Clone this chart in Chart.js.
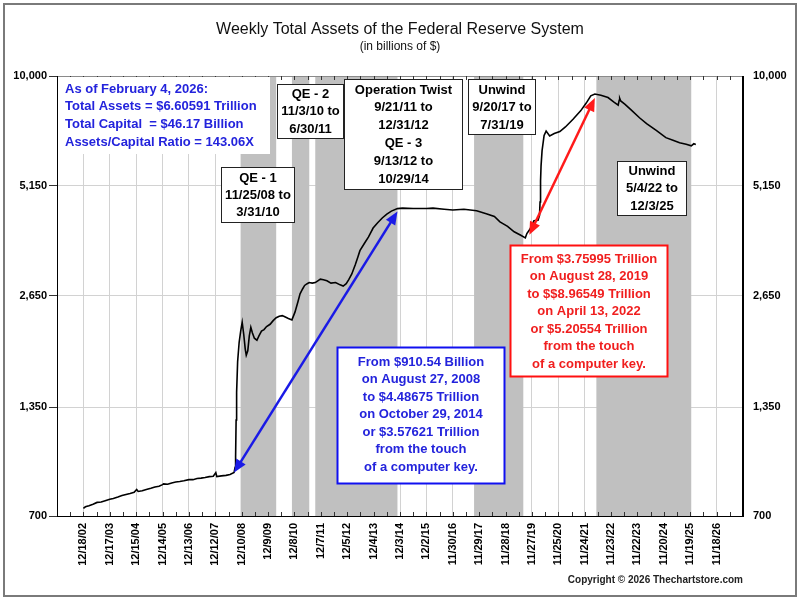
<!DOCTYPE html>
<html>
<head>
<meta charset="utf-8">
<script src="https://cdn.jsdelivr.net/npm/chart.js@4.4.1/dist/chart.umd.min.js"></script>
<style>
  html, body { margin: 0; padding: 0; background: #fff; }
  canvas { display: block; }
</style>
</head>
<body>
<canvas id="myChart" width="800" height="600"></canvas>
<script>
// weekly readings (billions of $)
const weekDates = [
  '12/18/02','1/15/03','3/5/03','4/30/03','6/25/03','8/20/03','10/15/03','12/17/03',
  '2/4/04','4/7/04','6/2/04','7/28/04','9/22/04','11/17/04','12/22/04',
  '1/12/05','3/9/05','5/4/05','7/6/05','8/31/05','10/26/05','12/14/05','12/28/05',
  '2/22/06','4/19/06','6/14/06','8/9/06','10/4/06','12/13/06',
  '2/7/07','4/4/07','5/30/07','7/25/07','9/19/07','11/14/07','12/19/07',
  '1/2/08','3/5/08','5/7/08','7/2/08','8/27/08','9/10/08','9/17/08','9/24/08','10/1/08','10/15/08','11/5/08','11/26/08','12/17/08',
  '1/7/09','1/28/09','2/11/09','3/4/09','3/25/09','4/15/09','5/6/09','6/3/09','7/8/09','8/5/09','9/9/09','10/14/09','11/18/09',
  '1/6/10','2/17/10','3/31/10','5/12/10','6/23/10','8/4/10','9/15/10','11/3/10','12/15/10',
  '1/26/11','2/23/11','3/30/11','4/27/11','6/1/11','6/29/11','8/10/11','9/21/11','10/26/11','11/30/11',
  '1/11/12','2/29/12','4/25/12','6/27/12','8/29/12','10/10/12','11/21/12','12/26/12',
  '2/6/13','3/27/13','5/1/13','5/29/13','7/31/13','9/25/13','11/27/13',
  '1/29/14','4/2/14','6/4/14','8/6/14','10/29/14',
  '1/7/15','6/3/15','12/2/15','3/2/16','8/3/16','11/30/16','5/3/17','10/25/17',
  '3/7/18','6/27/18','9/12/18','12/26/18','3/27/19','6/26/19','8/28/19','9/18/19','10/30/19','12/25/19',
  '2/19/20','3/11/20','3/18/20','3/25/20','4/1/20','4/15/20','5/13/20','6/10/20','7/29/20','9/30/20','12/16/20',
  '3/3/21','6/16/21','9/29/21','12/15/21','2/16/22','4/13/22','7/6/22','10/12/22','12/28/22',
  '3/1/23','3/15/23','3/22/23','4/5/23','5/31/23','8/30/23','12/20/23',
  '3/27/24','8/7/24','12/18/24','3/26/25','6/25/25','9/24/25','12/3/25','1/7/26','2/4/26'
];
const totalAssets = [
  733,740,745,752,760,762,768,775,
  778,785,792,797,802,808,822,
  812,815,822,828,834,838,846,850,
  848,855,860,862,866,872,
  872,878,880,883,888,890,910,
  888,892,895,900,910.54,940,1000,1250,1480,1780,2000,2140,2256,
  2100,1920,1850,1900,2080,2190,2120,2050,2025,2080,2140,2160,2200,
  2230,2280,2320,2340,2350,2330,2310,2290,2400,
  2560,2680,2760,2820,2850,2870,2860,2870,2900,2930,
  2920,2900,2860,2870,2830,2810,2850,2920,
  3023,3200,3350,3479,3640,3780,3990,
  4120,4240,4340,4420,4486.75,
  4500,4490,4490,4500,4470,4450,4470,4430,
  4350,4280,4140,4030,3900,3820,3759.95,3860,3960,4170,
  4180,4310,4670,5300,5810,6370,6980,7170,6960,7060,7150,
  7350,7700,8100,8490,8870,8965.49,8900,8780,8550,
  8390,8640,8740,8600,8440,8140,7770,
  7500,7200,6890,6780,6680,6620,6560,6640,6605.91
];
const xTickLabels = [
  '12/18/02','12/17/03','12/15/04','12/14/05','12/13/06','12/12/07','12/10/08','12/9/09',
  '12/8/10','12/7/11','12/5/12','12/4/13','12/3/14','12/2/15','11/30/16','11/29/17',
  '11/28/18','11/27/19','11/25/20','11/24/21','11/23/22','11/22/23','11/20/24','11/19/25','11/18/26'
];
const yTickValues = [700, 1350, 2650, 5150, 10000];
const bandStarts = ['11/25/08', '11/3/10', '9/21/11', '9/20/17', '5/4/22'];
const bandEnds   = ['3/31/10', '6/30/11', '10/29/14', '7/31/19', '12/3/25'];

const FONT = "'Liberation Sans', Arial, sans-serif";
const BLUE = '#2323dc';
const RED = '#f01e1e';

// day offset from the first weekly reading
const toDays = s => {
  const [m, d, y] = s.split('/').map(Number);
  return (Date.UTC(2000 + y, m - 1, d) - Date.UTC(2002, 11, 18)) / 86400000;
};
const tickDays = xTickLabels.map(toDays);
const yearStep = tickDays[1] - tickDays[0];

const textBoxes = [
  { x1: 221, y1: 167, x2: 295, y2: 223, first: 11, lh: 17, lines: ['QE - 1', '11/25/08 to', '3/31/10'] },
  { x1: 277, y1: 84, x2: 344, y2: 139, first: 10, lh: 17.5, lines: ['QE - 2', '11/3/10 to', '6/30/11'] },
  { x1: 344, y1: 79, x2: 463, y2: 190, first: 11, lh: 17.8, lines: ['Operation Twist', '9/21/11 to', '12/31/12', 'QE - 3', '9/13/12 to', '10/29/14'] },
  { x1: 468, y1: 79, x2: 536, y2: 135, first: 11, lh: 17.5, lines: ['Unwind', '9/20/17 to', '7/31/19'] },
  { x1: 617, y1: 161, x2: 687, y2: 216, first: 10, lh: 17.8, lines: ['Unwind', '5/4/22 to', '12/3/25'] },
  { x1: 337, y1: 347, x2: 505, y2: 484, first: 15, lh: 17.5, color: BLUE, border: '#1010f0', bw: 2,
    lines: ['From $910.54 Billion', 'on August 27, 2008', 'to $4.48675 Trillion', 'on October 29, 2014', 'or $3.57621 Trillion', 'from the touch', 'of a computer key.'] },
  { x1: 510, y1: 245, x2: 668, y2: 377, first: 14, lh: 17.5, color: RED, border: '#ff1010', bw: 2,
    lines: ['From $3.75995 Trillion', 'on August 28, 2019', 'to $$8.96549 Trillion', 'on April 13, 2022', 'or $5.20554 Trillion', 'from the touch', 'of a computer key.'] }
];
const asOfLines = ['As of February 4, 2026:', 'Total Assets = $6.60591 Trillion', 'Total Capital  = $46.17 Billion', 'Assets/Capital Ratio = 143.06X'];

function arrow(ctx, x1, y1, x2, y2, color) {
  const a = Math.atan2(y2 - y1, x2 - x1);
  const hl = 13, hw = 5.5;
  ctx.save();
  ctx.strokeStyle = color;
  ctx.fillStyle = color;
  ctx.lineWidth = 2.5;
  ctx.beginPath();
  ctx.moveTo(x1 + Math.cos(a) * hl * 0.8, y1 + Math.sin(a) * hl * 0.8);
  ctx.lineTo(x2 - Math.cos(a) * hl * 0.8, y2 - Math.sin(a) * hl * 0.8);
  ctx.stroke();
  [[x2, y2, a], [x1, y1, a + Math.PI]].forEach(([x, y, ang]) => {
    ctx.beginPath();
    ctx.moveTo(x, y);
    ctx.lineTo(x - Math.cos(ang) * hl - Math.sin(ang) * hw, y - Math.sin(ang) * hl + Math.cos(ang) * hw);
    ctx.lineTo(x - Math.cos(ang) * hl + Math.sin(ang) * hw, y - Math.sin(ang) * hl - Math.cos(ang) * hw);
    ctx.closePath();
    ctx.fill();
  });
  ctx.restore();
}

const decorations = {
  id: 'decorations',
  beforeDraw(chart) {
    const ctx = chart.ctx;
    ctx.save();
    ctx.fillStyle = '#fff';
    ctx.fillRect(0, 0, chart.width, chart.height);
    ctx.restore();
  },
  beforeDatasetsDraw(chart) {
    const { ctx, chartArea: ca, scales: { x } } = chart;
    ctx.save();
    ctx.fillStyle = '#c0c0c0';
    bandStarts.forEach((s, i) => {
      const a = x.getPixelForValue(toDays(s));
      const b = x.getPixelForValue(toDays(bandEnds[i]));
      ctx.fillRect(a, ca.top, b - a, ca.bottom - ca.top);
    });
    ctx.restore();
  },
  afterDraw(chart) {
    const { ctx, chartArea: ca, scales: { x, y } } = chart;
    ctx.save();

    // frame of the plot area
    ctx.lineWidth = 1;
    ctx.strokeStyle = '#8a8a8a';
    ctx.beginPath();
    ctx.moveTo(ca.left, ca.top + 0.5);
    ctx.lineTo(ca.right, ca.top + 0.5);
    ctx.stroke();
    ctx.strokeStyle = '#000';
    ctx.beginPath();
    ctx.moveTo(ca.left + 0.5, ca.top);
    ctx.lineTo(ca.left + 0.5, ca.bottom + 0.5);
    ctx.lineTo(ca.right - 0.5, ca.bottom + 0.5);
    ctx.lineTo(ca.right - 0.5, ca.top);
    ctx.stroke();

    // half-year tick marks, pointing in, top and bottom
    ctx.strokeStyle = '#333';
    ctx.beginPath();
    for (let v = x.min + yearStep / 2; v < x.max; v += yearStep / 2) {
      const px = Math.round(x.getPixelForValue(v)) + 0.5;
      ctx.moveTo(px, ca.top);
      ctx.lineTo(px, ca.top + 4);
      ctx.moveTo(px, ca.bottom);
      ctx.lineTo(px, ca.bottom - 4);
    }
    ctx.stroke();

    // as-of note
    ctx.fillStyle = '#fff';
    ctx.fillRect(ca.left + 1, ca.top + 1, 269 - ca.left, 153 - ca.top);
    ctx.fillStyle = BLUE;
    ctx.font = 'bold 13px ' + FONT;
    ctx.textAlign = 'left';
    ctx.textBaseline = 'middle';
    asOfLines.forEach((t, i) => ctx.fillText(t, 65, 89 + i * 17.7));

    // boxed notes
    textBoxes.forEach(b => {
      ctx.fillStyle = '#fff';
      ctx.fillRect(b.x1, b.y1, b.x2 - b.x1, b.y2 - b.y1);
      ctx.lineWidth = b.bw || 1;
      ctx.strokeStyle = b.border || '#222';
      ctx.strokeRect(b.x1 + 0.5, b.y1 + 0.5, b.x2 - b.x1 - 1, b.y2 - b.y1 - 1);
      ctx.fillStyle = b.color || '#000';
      ctx.textAlign = 'center';
      ctx.font = 'bold 13px ' + FONT;
      b.lines.forEach((t, i) => ctx.fillText(t, (b.x1 + b.x2) / 2, b.y1 + b.first + i * b.lh));
    });

    // arrows between the quoted readings
    arrow(ctx, x.getPixelForValue(toDays('8/27/08')), y.getPixelForValue(910.54),
      x.getPixelForValue(toDays('10/29/14')), y.getPixelForValue(4486.75) + 3, '#1a1ae6');
    arrow(ctx, x.getPixelForValue(toDays('8/28/19')) + 4, y.getPixelForValue(3759.95) - 3,
      x.getPixelForValue(toDays('4/13/22')), y.getPixelForValue(8965.49) + 4, '#ff1a1a');

    // titles, copyright, outer border
    ctx.fillStyle = '#111';
    ctx.textAlign = 'center';
    ctx.font = '16px ' + FONT;
    ctx.fillText('Weekly Total Assets of the Federal Reserve System', 400, 30);
    ctx.font = '12px ' + FONT;
    ctx.fillText('(in billions of $)', 400, 47);
    ctx.textAlign = 'right';
    ctx.font = 'bold 10px ' + FONT;
    ctx.fillStyle = '#222';
    ctx.fillText('Copyright \u00a9 2026 Thechartstore.com', 743, 580);

    ctx.strokeStyle = '#7a7a7a';
    ctx.lineWidth = 2;
    ctx.strokeRect(4, 4, 792, 592);
    ctx.restore();
  }
};

const yTickFormat = v => Number(v).toLocaleString('en-US');

const config = {
  type: 'line',
  data: {
    datasets: [{
      data: weekDates.map((d, i) => ({ x: toDays(d), y: totalAssets[i] })),
      borderColor: '#000',
      borderWidth: 1.6,
      pointRadius: 0,
      tension: 0,
      fill: false
    }]
  },
  options: {
    responsive: false,
    animation: false,
    devicePixelRatio: 1,
    layout: { padding: { top: 76, left: 0, right: 0, bottom: 0 } },
    plugins: { legend: { display: false }, tooltip: { enabled: false }, title: { display: false } },
    scales: {
      x: {
        type: 'linear',
        min: tickDays[0] - yearStep,
        max: tickDays[tickDays.length - 1] + yearStep,
        afterBuildTicks: s => { s.ticks = tickDays.map(v => ({ value: v })); },
        afterFit: s => { s.height = 84; },
        grid: { color: '#d2d2d2', drawTicks: false },
        border: { color: '#000' },
        ticks: {
          autoSkip: false,
          minRotation: 90,
          maxRotation: 90,
          padding: 7,
          color: '#000',
          font: { family: FONT, size: 11, weight: 'bold' },
          callback: v => xTickLabels[tickDays.indexOf(v)] || ''
        }
      },
      y: {
        type: 'logarithmic',
        position: 'left',
        min: 700,
        max: 10000,
        afterBuildTicks: s => { s.ticks = yTickValues.map(v => ({ value: v })); },
        afterFit: s => { s.width = 57; },
        grid: { color: '#d2d2d2', tickColor: '#333', tickLength: 8 },
        border: { color: '#000' },
        ticks: { padding: 2, color: '#000', font: { family: FONT, size: 11, weight: 'bold' }, callback: yTickFormat }
      },
      y2: {
        type: 'logarithmic',
        position: 'right',
        min: 700,
        max: 10000,
        afterBuildTicks: s => { s.ticks = yTickValues.map(v => ({ value: v })); },
        afterFit: s => { s.width = 57; },
        grid: { display: false, drawTicks: false },
        border: { color: '#000' },
        ticks: { padding: 10, color: '#000', font: { family: FONT, size: 11, weight: 'bold' }, callback: yTickFormat }
      }
    }
  },
  plugins: [decorations]
};

const myChart = new Chart(document.getElementById('myChart'), config);
</script>
</body>
</html>
